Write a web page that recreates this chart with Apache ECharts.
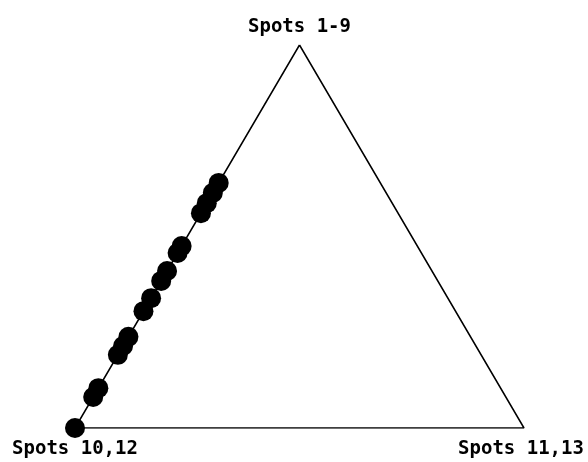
<!DOCTYPE html>
<html>
<head>
<meta charset="utf-8">
<script src="https://cdn.jsdelivr.net/npm/echarts@6/dist/echarts.min.js"></script>
<style>
  html, body { margin: 0; padding: 0; background: #fff; }
  #chart { width: 588px; height: 462px; }
</style>
</head>
<body>
<div id="chart"></div>
<script>
// Ternary components (vertex names)
const components = ['Spots 1-9', 'Spots 10,12', 'Spots 11,13'];

// Percent share of each sample in each component
const spots1to9   = [64, 61.4, 58.7, 56.1, 47.5, 45.7, 41, 38.4, 33.9, 30.5, 23.8, 21.4, 19.1, 10.4, 8.1, 0];
const spots11and13 = [0, 0, 0, 0, 0, 0, 0, 0, 0, 0, 0, 0, 0, 0, 0, 0];
const spots10and12 = spots1to9.map((a, i) => 100 - a - spots11and13[i]);

// Ternary -> cartesian: apex (Spots 1-9) at top centre, Spots 10,12 bottom-left, Spots 11,13 bottom-right
function toXY(a, b, c) {
  const s = a + b + c;
  return [(c + a / 2) / s, a / s];
}

const points = spots1to9.map((a, i) => toXY(a, spots10and12[i], spots11and13[i]));

const labelFont = {
  fontFamily: 'DejaVu Sans Mono',
  fontWeight: 'bold',
  fontSize: 19,
  color: '#000'
};

function vertexLabel(text, position, distance, offset) {
  return { show: true, position: position, distance: distance, offset: offset || [0, 0], formatter: text, ...labelFont };
}

const frame = [
  { value: toXY(100, 0, 0), label: vertexLabel(components[0], 'top', 8) },
  { value: toXY(0, 0, 100), label: vertexLabel(components[2], 'bottom', 12, [-3, 0]) },
  { value: toXY(0, 100, 0), label: vertexLabel(components[1], 'bottom', 12) },
  { value: toXY(100, 0, 0) }
];

const chart = echarts.init(document.getElementById('chart'), null, { renderer: 'canvas' });
chart.setOption({
  animation: false,
  backgroundColor: '#fff',
  grid: { left: 75, right: 64, top: 45, bottom: 34 },
  xAxis: { type: 'value', min: 0, max: 1, show: false },
  yAxis: { type: 'value', min: 0, max: 1, show: false },
  series: [
    {
      type: 'line',
      data: frame,
      symbol: 'circle',
      symbolSize: 0.01,
      showSymbol: true,
      showAllSymbol: true,
      itemStyle: { color: '#000' },
      lineStyle: { color: '#000', width: 1.5 },
      label: { show: false },
      z: 1
    },
    {
      type: 'scatter',
      data: points,
      symbol: 'circle',
      symbolSize: 20,
      itemStyle: { color: '#000', opacity: 1 },
      z: 2
    }
  ]
});
</script>
</body>
</html>
